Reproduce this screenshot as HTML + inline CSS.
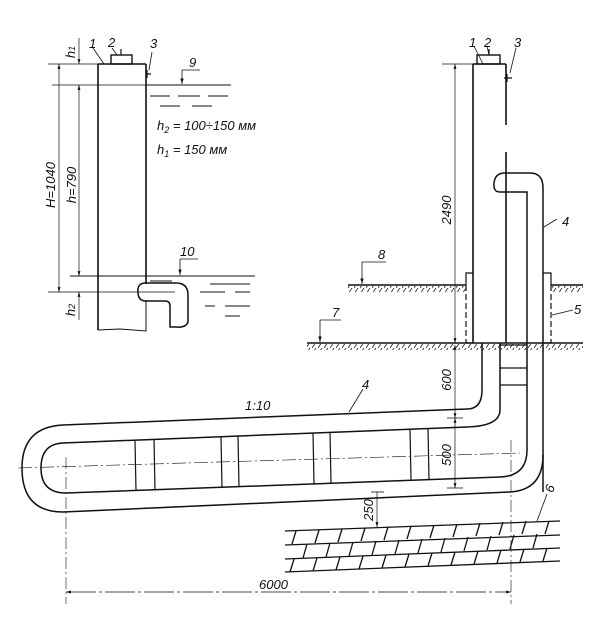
<!DOCTYPE html>
<html><head><meta charset="utf-8"><style>
html,body{margin:0;padding:0;background:#fff}
svg{display:block}
text{font-family:"Liberation Sans",sans-serif;font-style:italic;fill:#111}
</style></head><body>
<svg width="603" height="626" viewBox="0 0 603 626" xmlns="http://www.w3.org/2000/svg">
<defs>
<pattern id="hat" width="6" height="6" patternUnits="userSpaceOnUse"><path d="M0 6 L4 0" stroke="#222" stroke-width="0.8"/></pattern>
<marker id="ar" viewBox="0 0 10 10" refX="10" refY="5" markerWidth="7" markerHeight="7" orient="auto-start-reverse"><path d="M0 2 L10 5 L0 8 Z" fill="#111"/></marker>
</defs>
<g stroke="#111" fill="none" stroke-width="1.2">
<path d="M98 64 V330 M146 64 V284 M98 64 H146" stroke-width="1.6"/>
<path d="M98 330 L120 329 L146 331 V300" stroke-width="1"/>
<rect x="111" y="55" width="21" height="9" stroke-width="1.4"/>
<path d="M121 55 V49 M147 70 V78 M146 74 H151"/>
<path d="M146 283 H176 Q188 283 188 295 V322 Q186 328 176 327 L170 327 V306 Q170 301 165 301 H146 M146 283 Q137 283 138 292 Q138 301 146 301" stroke-width="1.5"/>
<path d="M146 85 H231 M150 96 H170 M178 96 H200 M208 96 H228 M160 106 H180 M192 106 H212" stroke-width="0.9"/>
<path d="M70 276 H255 M150 281 H172 M210 284 H250 M200 292 H225 M235 292 H250 M205 306 H215 M225 306 H250 M225 316 H240" stroke-width="0.9"/>
<path d="M48 64 H98 M52 85 H146 M48 292 H175" stroke-width="0.7"/>
<path d="M59 64 V292" stroke-width="0.7" marker-start="url(#ar)" marker-end="url(#ar)"/>
<path d="M79 85 V276" stroke-width="0.7" marker-start="url(#ar)" marker-end="url(#ar)"/>
<path d="M79 38 V64" stroke-width="0.7" marker-end="url(#ar)"/>
<path d="M79 320 V292" stroke-width="0.7" marker-end="url(#ar)"/>
<path d="M182 70 H200 M182 70 V84" stroke-width="0.8" marker-end="url(#ar)"/>
<path d="M180 259 H198 M180 259 V275" stroke-width="0.8" marker-end="url(#ar)"/>
<path d="M93 48 L104 64 M112 48 L117 55 M152 52 L149 70" stroke-width="0.8"/>

<path d="M473 64 V343 M473 64 H506 M506 64 V125 M506 152 V343" stroke-width="1.6"/>
<rect x="477" y="55" width="23" height="9" stroke-width="1.4"/>
<path d="M489 55 V49 M507 74 V82 M504 78 H512"/>
<path d="M527 343 V192 H506 M506 192 H500 Q493 192 494 183 Q495 173 505 173 H530 Q543 173 543 188 V492" stroke-width="1.5"/>
<path d="M527 343 V450" stroke-width="1.5"/>
<path d="M473 273 H466 V285 M543 273 H551 V285" stroke-width="1.2"/>
<path d="M466 285 V343 M551 285 V343" stroke-width="1.2" stroke-dasharray="6 3"/>
<path d="M466 343 H473 M543 343 H551"/>
<path d="M348 285 H466 M551 285 H583 M307 343 H583" stroke-width="1.4"/>
<rect x="348" y="286" width="118" height="6" fill="url(#hat)" stroke="none"/>
<rect x="551" y="286" width="32" height="6" fill="url(#hat)" stroke="none"/>
<rect x="307" y="344" width="276" height="6" fill="url(#hat)" stroke="none"/>
<path d="M482 343 V390 Q482 409 467 409 L63 425 Q22 427 22 468 Q22 512 63 512 L510 492 Q543 490 543 455" stroke-width="1.5"/>
<path d="M500 343 V410 Q500 426 467 427 L63 443 Q41 444 41 468 Q41 493 66 493 L500 477 Q527 476 527 450" stroke-width="1.5"/>
<path d="M500 345 H527 M500 368 H527 M500 385 H527" stroke-width="1.2"/>
<path d="M135 440 L136 491 M154 439 L155 490 M221 437 L222 488 M238 436 L239 487 M313 433 L314 484 M330 432 L331 483 M410 429 L411 480 M428 428 L429 479" stroke-width="1.2"/>
<path d="M18 468 L520 453" stroke-width="0.6" stroke-dasharray="14 3 2 3"/>
<g stroke-width="1.3">
<path d="M285 531 L560 521 M285 545 L560 535 M285 559 L560 548 M285 572 L560 561"/>
<path d="M292 544 L296 531 M315 543 L319 530 M338 542 L342 529 M361 541 L365 528 M384 540 L388 527 M407 539 L411 526 M430 538 L434 525 M453 537 L457 524 M476 536 L480 523 M499 535 L503 522 M522 534 L526 521 M545 534 L549 521"/>
<path d="M303 558 L307 544 M326 557 L330 543 M349 556 L353 542 M372 555 L376 541 M395 554 L399 540 M418 553 L422 539 M441 552 L445 538 M464 551 L468 537 M487 550 L491 536 M510 549 L514 535 M533 548 L537 534"/>
<path d="M290 572 L294 559 M313 571 L317 558 M336 570 L340 557 M359 569 L363 556 M382 568 L386 555 M405 567 L409 554 M428 566 L432 553 M451 565 L455 552 M474 564 L478 551 M497 563 L501 550 M520 562 L524 549 M543 561 L547 548"/>
</g>
<path d="M442 64 H473" stroke-width="0.7"/>
<path d="M455 64 V343" stroke-width="0.7" marker-start="url(#ar)" marker-end="url(#ar)"/>
<path d="M455 345 V418" stroke-width="0.7" marker-start="url(#ar)" marker-end="url(#ar)"/>
<path d="M455 418 V488" stroke-width="0.7" marker-start="url(#ar)" marker-end="url(#ar)"/>
<path d="M447 418 H463 M447 488 H463" stroke-width="0.7"/>
<path d="M371 492 H384" stroke-width="0.8"/>
<path d="M377 492 V527" stroke-width="0.7" marker-end="url(#ar)"/>
<path d="M66 457 V604 M511 440 V604" stroke-width="0.6" stroke-dasharray="12 3 2 3"/>
<path d="M66 592 H511" stroke-width="0.7" stroke-dasharray="30 3 3 3" marker-start="url(#ar)" marker-end="url(#ar)"/>
<path d="M362 262 H386 M362 262 V284" stroke-width="0.8" marker-end="url(#ar)"/>
<path d="M320 320 H341 M320 320 V342" stroke-width="0.8" marker-end="url(#ar)"/>
<path d="M474 46 L483 64 M487 46 L489 55 M516 48 L510 73 M557 219 L544 227 M573 310 L552 315 M363 389 L349 412 M547 494 L537 521" stroke-width="0.8"/>
</g>
<g font-size="13">
<text x="89" y="48">1</text><text x="108" y="47">2</text><text x="150" y="48">3</text>
<text x="189" y="67">9</text><text x="180" y="256">10</text>
<text x="157" y="130">h<tspan font-size="9" dy="3">2</tspan><tspan dy="-3"> = 100÷150 мм</tspan></text>
<text x="157" y="154">h<tspan font-size="9" dy="3">1</tspan><tspan dy="-3"> = 150 мм</tspan></text>
<text transform="translate(55,185) rotate(-90)" text-anchor="middle">H=1040</text>
<text transform="translate(76,185) rotate(-90)" text-anchor="middle">h=790</text>
<text transform="translate(75,52) rotate(-90)" text-anchor="middle">h<tspan font-size="9">1</tspan></text>
<text transform="translate(75,310) rotate(-90)" text-anchor="middle">h<tspan font-size="9">2</tspan></text>
<text x="469" y="47">1</text><text x="484" y="47">2</text><text x="514" y="47">3</text>
<text transform="translate(451,210) rotate(-90)" text-anchor="middle">2490</text>
<text x="562" y="226">4</text><text x="574" y="314">5</text>
<text x="378" y="259">8</text><text x="332" y="317">7</text>
<text transform="translate(451,380) rotate(-90)" text-anchor="middle">600</text>
<text transform="translate(451,455) rotate(-90)" text-anchor="middle">500</text>
<text transform="translate(373,510) rotate(-90)" text-anchor="middle">250</text>
<text x="245" y="410">1:10</text>
<text x="362" y="389">4</text>
<text transform="translate(554,490) rotate(-70)" text-anchor="middle">6</text>
<text x="259" y="589">6000</text>
</g>
</svg>
</body></html>
